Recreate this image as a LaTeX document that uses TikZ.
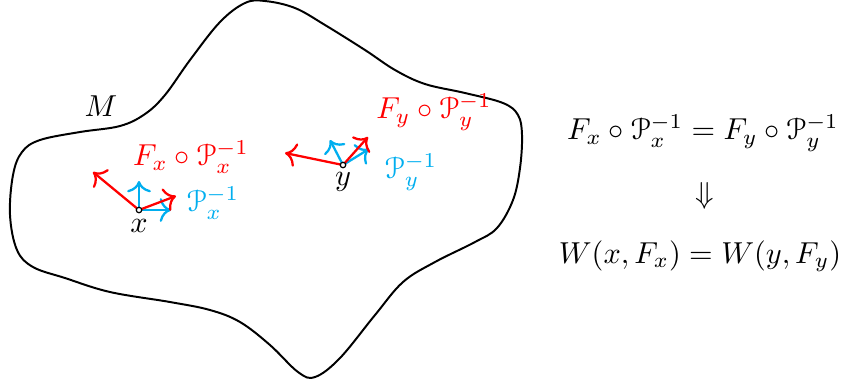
\documentclass[tikz,border=0pt]{standalone}
\usepackage{amsmath,amssymb}
\usepackage{eucal}
\usetikzlibrary{arrows.meta}
\definecolor{fblue}{RGB}{0,174,239}
\definecolor{fred}{RGB}{255,0,0}
\tikzset{
  outline/.style={draw=black, line width=0.65pt},
  redarr/.style={draw=fred, line width=0.75pt, -{To[scale=1.15]}},
  bluearr/.style={draw=fblue, line width=0.75pt, -{To[scale=1.15]}},
  lbl/.style={inner sep=1pt},
  ptdot/.style={draw=black, fill=white, thin}
}
\begin{document}
\begin{tikzpicture}[x=0.33pt,y=-0.33pt]
\useasboundingbox (0,0) rectangle (842,385);
% manifold outline
\draw[outline] plot[smooth cycle, tension=0.6] coordinates {
 (10,215) (13,175) (22,152) (40,140) (80,132) (120,126) (145,114)
 (165,95) (190,60) (220,22) (245,3) (265,1) (295,8) (325,25) (365,50)
 (395,70) (425,84) (465,93) (503,103) (518,115) (522,135) (520,168)
 (513,200) (497,228) (475,242) (435,262) (403,282) (375,315) (340,358)
 (315,377) (298,372) (270,345) (240,322) (210,310) (170,302) (110,292)
 (65,278) (33,267) (17,250)};
\node[lbl] (M) at (101,106) {$M$};
% point x
\coordinate (x) at (139,210);
\coordinate (xr1) at (93,172);
\coordinate (xr2) at (176,196);
\coordinate (xb1) at (139,181);
\coordinate (xb2) at (171,210);
\draw[bluearr] (x) -- (xb1);
\draw[bluearr] (x) -- (xb2);
\draw[redarr] (x) -- (xr1);
\draw[redarr] (x) -- (xr2);
\draw[ptdot] (x) circle[radius=0.9pt];
\node[lbl] (xl) at (139,226) {$x$};
\node[lbl, text=fred] (fxl) at (191,157) {$F_x\circ\mathcal{P}_x^{-1}$};
\node[lbl, text=fblue] (pxl) at (213,203) {$\mathcal{P}_x^{-1}$};
% point y
\coordinate (y) at (343,165);
\coordinate (yr1) at (285,153);
\coordinate (yr2) at (368,137);
\coordinate (yb1) at (330,140);
\coordinate (yb2) at (369,149);
\draw[bluearr] (y) -- (yb1);
\draw[bluearr] (y) -- (yb2);
\draw[redarr] (y) -- (yr1);
\draw[redarr] (y) -- (yr2);
\draw[ptdot] (y) circle[radius=0.9pt];
\node[lbl] (yl) at (343,182) {$y$};
\node[lbl, text=fred] (fyl) at (434,112) {$F_y\circ\mathcal{P}_y^{-1}$};
\node[lbl, text=fblue] (pyl) at (411,172) {$\mathcal{P}_y^{-1}$};
% equations
\node[lbl] (eq1) at (703,133) {$F_x\circ\mathcal{P}_x^{-1}=F_y\circ\mathcal{P}_y^{-1}$};
\node[lbl] (imp) at (705,196) {$\Downarrow$};
\node[lbl] (eq2) at (700,256) {$W(x,F_x)=W(y,F_y)$};
\end{tikzpicture}
\end{document}
